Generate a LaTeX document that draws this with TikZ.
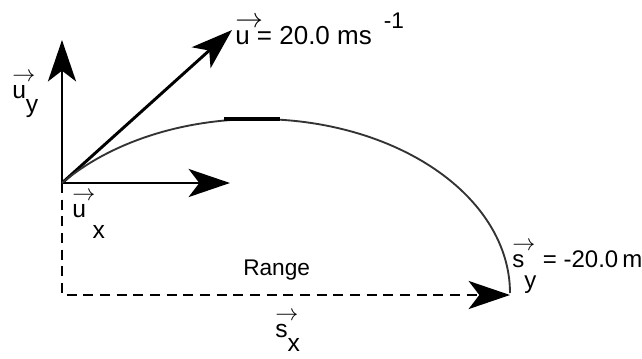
\documentclass[tikz,border=0pt]{standalone}
\usepackage{fontspec}
\setmainfont{Liberation Sans}
\usepackage{tikz}
\usetikzlibrary{arrows.meta,positioning,calc}
\colorlet{pathGray}{gray!40!black}
\newcommand{\vecl}[1]{\rlap{\smash{\raisebox{12.5pt}{$\rightarrow$}}}#1}

\begin{document}
\begin{tikzpicture}[x=0.75pt, y=-0.75pt,
        every node/.style={font=\fontsize{18.5}{22}\selectfont, inner sep=0pt, anchor=base west},
        vecarrow/.style={line width=2.2pt, -{Stealth[length=31pt, width=21pt, inset=8pt]}},
        rangeline/.style={vecarrow, dash pattern=on 7.5pt off 5pt}]
            \useasboundingbox (0,0) rectangle (642,358);

            % Launch point and arrow ends
            \coordinate (O) at (62,183);
            \coordinate (uytip) at (62,40);
            \coordinate (utip) at (232,30);
            \coordinate (uxtip) at (230,183);
            \coordinate (corner) at (62,295);
            \coordinate (land) at (510,295);

            % Velocity components
            \draw[vecarrow] (O) -- (uytip);
            \draw[vecarrow] (O) -- (utip);
            \draw[vecarrow] (O) -- (uxtip);

            % Range
            \draw[rangeline] (O) -- (corner) -- (land);

            % Trajectory
            \draw[pathGray, line width=1.4pt] plot[domain=140.8:0, samples=90]
                ({257.6+252.4*cos(\x)}, {293-174*sin(\x)});
            \draw[line width=2.4pt] (224,119) -- (280,119);

            % Labels
            \node[font=\fontsize{19.5}{22}\selectfont] (u) at (235,44) {\vecl{u} = 20.0 ms\hspace{9pt}\raisebox{12pt}{\fontsize{17}{20}\selectfont -1}};
            \node (uy) at (12,98) {\vecl{u}\raisebox{-10.5pt}{y}};
            \node (ux) at (72,217) {\vecl{u}\hspace{5pt}\raisebox{-16pt}{x}};
            \node[font=\fontsize{18}{22}\selectfont] (sy) at (512,267) {\vecl{s}\raisebox{-16pt}{y} = -20.0\,m};
            \node[font=\fontsize{17}{20}\selectfont] (range) at (243,275) {Range};
            \node (sx) at (275,337) {\vecl{s}\raisebox{-11pt}{x}};
        \end{tikzpicture}
\end{document}
